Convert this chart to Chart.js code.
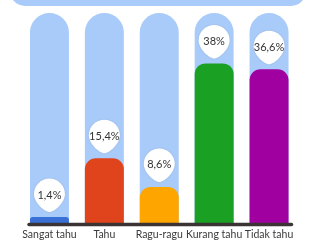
<!DOCTYPE html>
<html><head><meta charset="utf-8">
<script src="https://cdn.jsdelivr.net/npm/chart.js@4/dist/chart.umd.min.js"></script>
<style>
html,body{margin:0;padding:0;background:#fff;overflow:hidden}
#wrap{position:relative;width:309px;height:240px}
#topdeco{position:absolute;left:10px;top:-20px;width:296px;height:25.5px;background:#a9cbf9;border-radius:0 0 15px 15px}
canvas{position:absolute;left:0;top:0}
</style></head>
<body><div id="wrap"><div id="topdeco"></div><canvas id="c" width="309" height="240"></canvas></div>
<script>
const categories = ['Sangat tahu','Tahu','Ragu-ragu','Kurang tahu','Tidak tahu'];
const values = [1.4, 15.4, 8.6, 38, 36.6];
const maxValue = 50;
const trackValues = [50, 50, 50, 50, 50];
const barColors = ['#3a6fd6','#e0441c','#ffa500','#1aa124','#a000a0'];
const trackColor = '#a9cbf9';

const fmt = v => String(v).replace('.', ',') + '%';

const decor = {
  id: 'decor',
  afterDatasetsDraw(chart) {
    const ctx = chart.ctx;
    const area = chart.chartArea;
    ctx.save();
    ctx.strokeStyle = '#3a3434';
    ctx.lineWidth = 3.5;
    ctx.lineCap = 'round';
    ctx.beginPath();
    ctx.moveTo(area.left + 7, area.bottom + 1.5);
    ctx.lineTo(area.right - 5, area.bottom + 1.5);
    ctx.stroke();
    ctx.restore();
    const meta = chart.getDatasetMeta(0);
    meta.data.forEach((bar, i) => {
      const x = bar.x, top = bar.y;
      const r = 15.5;
      const cy = top - 23;
      const tipY = top - 5;
      ctx.save();
      ctx.shadowColor = 'rgba(0,0,0,0.12)';
      ctx.shadowBlur = 2;
      ctx.fillStyle = '#ffffff';
      ctx.beginPath();
      ctx.arc(x, cy, r, 0, Math.PI, true);
      ctx.bezierCurveTo(x - r, cy + r*0.55, x - 5, tipY, x, tipY);
      ctx.bezierCurveTo(x + 5, tipY, x + r, cy + r*0.55, x + r, cy);
      ctx.closePath();
      ctx.fill();
      ctx.restore();
      ctx.save();
      ctx.fillStyle = '#333';
      ctx.font = '11px Lato, "Open Sans", sans-serif';
      ctx.textAlign = 'center';
      ctx.textBaseline = 'middle';
      ctx.fillText(fmt(values[i]), x, cy + 1);
      ctx.restore();
    });
  }
};

new Chart(document.getElementById('c'), {
  type: 'bar',
  data: {
    labels: categories,
    datasets: [
      { data: values, backgroundColor: barColors, borderRadius: {topLeft: 11, topRight: 11}, borderSkipped: 'bottom', order: 0 },
      { data: trackValues, backgroundColor: trackColor, borderRadius: {topLeft: 19.5, topRight: 19.5}, borderSkipped: 'bottom', order: 1 }
    ]
  },
  options: {
    responsive: false,
    animation: false,
    devicePixelRatio: 1,
    layout: { padding: { top: 13, left: 22, right: 12.5, bottom: 0 } },
    datasets: { bar: { grouped: false, barPercentage: 0.71, categoryPercentage: 1 } },
    plugins: { legend: { display: false }, tooltip: { enabled: false } },
    scales: {
      y: { display: false, min: 0, max: maxValue },
      x: {
        afterFit: s => { s.height = 17; },
        grid: { display: false, drawTicks: false },
        border: { display: false },
        ticks: { color: '#3a3a3a', font: { size: 10.5, family: 'Lato, "Open Sans", sans-serif' }, padding: 5, maxRotation: 0, autoSkip: false }
      }
    }
  },
  plugins: [decor]
});
</script>
</body></html>
